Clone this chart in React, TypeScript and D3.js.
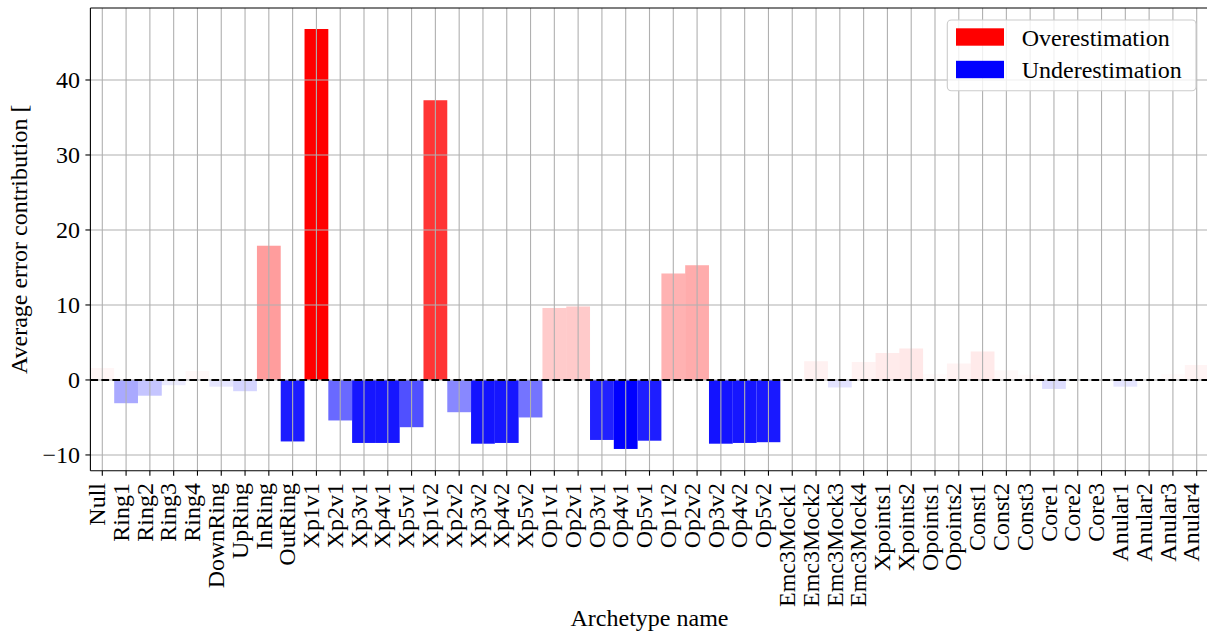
import React from "react";
import * as d3 from "d3";

const categories = [
  "Null", "Ring1", "Ring2", "Ring3", "Ring4", "DownRing", "UpRing", "InRing", "OutRing",
  "Xp1v1", "Xp2v1", "Xp3v1", "Xp4v1", "Xp5v1", "Xp1v2", "Xp2v2", "Xp3v2", "Xp4v2", "Xp5v2",
  "Op1v1", "Op2v1", "Op3v1", "Op4v1", "Op5v1", "Op1v2", "Op2v2", "Op3v2", "Op4v2", "Op5v2",
  "Emc3Mock1", "Emc3Mock2", "Emc3Mock3", "Emc3Mock4", "Xpoints1", "Xpoints2", "Opoints1", "Opoints2",
  "Const1", "Const2", "Const3", "Core1", "Core2", "Core3", "Anular1", "Anular2", "Anular3", "Anular4",
];

const values = [
  1.6, -3.1, -2.1, -0.7, 1.2, -0.9, -1.5, 17.9, -8.2,
  46.8, -5.4, -8.4, -8.4, -6.3, 37.3, -4.3, -8.5, -8.4, -5.0,
  9.6, 9.8, -8.0, -9.2, -8.1, 14.2, 15.3, -8.5, -8.4, -8.3,
  0.1, 2.5, -1.0, 2.4, 3.6, 4.2, 0.8, 2.2,
  3.8, 1.3, 0.7, -1.2, -0.1, 0.1, -0.9, 0, 0.8, 2.0,
];

const yTicks = [-10, 0, 10, 20, 30, 40];
const legendItems = [
  { label: "Overestimation", color: "#ff0000" },
  { label: "Underestimation", color: "#0000ff" },
];

const W = 1207;
const H = 634;
const left = 90.4;
const right = 1208.6;
const top = 8;
const bottom = 470.7;
const FONT = "'Liberation Serif', 'DejaVu Serif', serif";

export default function App() {
  const x = d3.scaleBand<string>().domain(categories).range([left, right]).padding(0);
  const y = d3.scaleLinear().domain([-12.1, 49.6]).range([bottom, top]);
  const maxPos = d3.max(values.filter((v) => v > 0)) || 1;
  const maxNeg = d3.max(values.filter((v) => v < 0).map((v) => -v)) || 1;
  const fmt = (v: number) => (v < 0 ? "\u2212" + Math.abs(v) : String(v));

  return (
    <div style={{ position: "fixed", left: 0, top: 0 }}>
      <svg width={W} height={H} style={{ display: "block", background: "#fff" }} fontFamily={FONT}>
        {/* bars */}
        {categories.map((c, i) => {
          const v = values[i];
          const y0 = y(0);
          const y1 = y(v);
          const op = v >= 0 ? v / maxPos : -v / maxNeg;
          return (
            <rect
              key={c}
              x={x(c)}
              width={x.bandwidth()}
              y={Math.min(y0, y1)}
              height={Math.abs(y1 - y0)}
              fill={v >= 0 ? "#ff0000" : "#0000ff"}
              fillOpacity={op}
            />
          );
        })}
        {/* grid */}
        {categories.map((c) => {
          const cx = (x(c) as number) + x.bandwidth() / 2;
          return <line key={"g" + c} x1={cx} x2={cx} y1={top} y2={bottom} stroke="#b0b0b0" strokeWidth={1.1} />;
        })}
        {yTicks.map((t) => (
          <line key={"gy" + t} x1={left} x2={right} y1={y(t)} y2={y(t)} stroke="#b0b0b0" strokeWidth={1.1} />
        ))}
        {/* zero line */}
        <line x1={left} x2={right} y1={y(0)} y2={y(0)} stroke="#000" strokeWidth={2.1} strokeDasharray="7.7,3.3" />
        {/* spines */}
        <line x1={left} x2={left} y1={top} y2={bottom} stroke="#000" strokeWidth={1.1} />
        <line x1={left} x2={right} y1={top} y2={top} stroke="#000" strokeWidth={1.1} />
        <line x1={left} x2={right} y1={bottom} y2={bottom} stroke="#000" strokeWidth={1.1} />
        <line x1={right} x2={right} y1={top} y2={bottom} stroke="#000" strokeWidth={1.1} />
        {/* y ticks */}
        {yTicks.map((t) => (
          <g key={"yt" + t}>
            <line x1={left - 5} x2={left} y1={y(t)} y2={y(t)} stroke="#000" strokeWidth={1.1} />
            <text x={80} y={y(t)} dy="0.34em" textAnchor="end" fontSize={24} fill="#000">
              {fmt(t)}
            </text>
          </g>
        ))}
        {/* x ticks */}
        {categories.map((c) => {
          const cx = (x(c) as number) + x.bandwidth() / 2;
          return (
            <g key={"xt" + c}>
              <line x1={cx} x2={cx} y1={bottom} y2={bottom + 5} stroke="#000" strokeWidth={1.1} />
              <text
                transform={`translate(${cx + 2.7},483) rotate(-90)`}
                textAnchor="end"
                fontSize={24}
                fill="#000"
              >
                {c}
              </text>
            </g>
          );
        })}
        {/* axis labels */}
        <text x={(left + right) / 2} y={626} textAnchor="middle" fontSize={24} fill="#000">
          Archetype name
        </text>
        <text transform={`translate(27,${(top + bottom) / 2}) rotate(-90)`} textAnchor="middle" fontSize={24} fill="#000">
          Average error contribution [
        </text>
        {/* legend */}
        <rect x={947.3} y={20} width={248.7} height={70.7} rx={4} fill="#fff" fillOpacity={0.8} stroke="#cccccc" strokeWidth={1.1} />
        {legendItems.map((it, i) => (
          <g key={it.label}>
            <rect x={956} y={28.3 + i * 32.5} width={48} height={17.4} fill={it.color} />
            <text x={1021.7} y={45.7 + i * 32.6} fontSize={24} fill="#000">
              {it.label}
            </text>
          </g>
        ))}
      </svg>
    </div>
  );
}
